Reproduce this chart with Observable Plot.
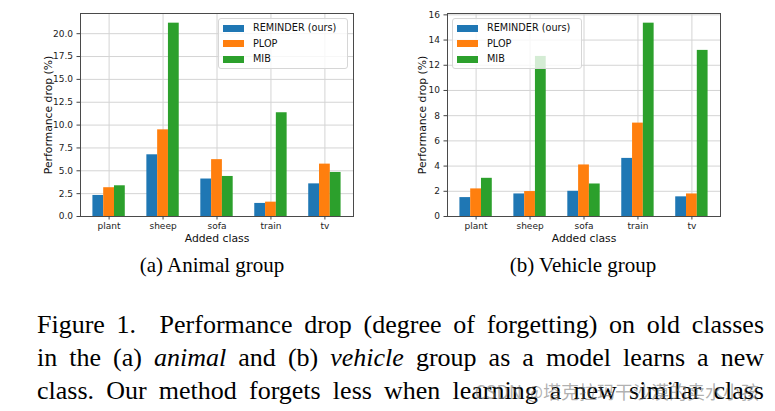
<!DOCTYPE html>
<html>
<head>
<meta charset="utf-8">
<script src="https://cdn.jsdelivr.net/npm/d3@7"></script>
<script src="https://cdn.jsdelivr.net/npm/@observablehq/plot@0.6"></script>
<style>
  html, body { margin: 0; padding: 0; background: #fff; }
  #root { position: relative; width: 775px; height: 411px; overflow: hidden; background: #fff; }
  .panel { position: absolute; top: 0; }
  .legend { position: absolute; background: rgba(255,255,255,0.8); border: 1px solid #d6d6d6; border-radius: 3px; box-sizing: border-box; z-index: 5; font-family: "DejaVu Sans", sans-serif; font-size: 9.7px; color: #111; }
  .legend .row { position: absolute; left: 0; height: 10px; display: flex; align-items: center; white-space: nowrap; }
  .legend .sw { position: absolute; width: 21px; height: 7px; top: 1.5px; }
  .legend .lb { position: absolute; top: -1px; line-height: 12px; }
  .sub { position: absolute; font-family: "Liberation Serif", "Times New Roman", serif; font-size: 21px; color: #000; white-space: nowrap; transform: translateX(-50%); line-height: 24px; }
  .cap { position: absolute; left: 37px; width: 727px; font-family: "Liberation Serif", "Times New Roman", serif; font-size: 26px; line-height: 33px; color: #000; text-align: justify; text-align-last: justify; white-space: nowrap; }
  .wm { position: absolute; font-family: "Noto Sans CJK SC", sans-serif; font-size: 18px; color: rgba(110,110,110,0.55); white-space: nowrap; z-index: 6; line-height: 22px; }
</style>
</head>
<body>
<div id="root">
  <div id="pa" class="panel" style="left:0px"></div>
  <div id="pb" class="panel" style="left:385px"></div>
</div>
<script>
const categories = ["plant", "sheep", "sofa", "train", "tv"];
const methods = ["REMINDER (ours)", "PLOP", "MIB"];
const colors = ["#1f77b4", "#ff7f0e", "#2ca02c"];

const animalReminder = [2.3, 6.75, 4.1, 1.43, 3.57];
const animalPlop     = [3.15, 9.48, 6.22, 1.57, 5.73];
const animalMib      = [3.36, 21.15, 4.38, 11.35, 4.82];

const vehicleReminder = [1.5, 1.79, 2.0, 4.61, 1.56];
const vehiclePlop     = [2.19, 1.98, 4.09, 7.41, 1.79];
const vehicleMib      = [3.03, 12.7, 2.58, 15.34, 13.18];

const animalTicks = [0, 2.5, 5, 7.5, 10, 12.5, 15, 17.5, 20];
const vehicleTicks = [0, 2, 4, 6, 8, 10, 12, 14, 16];

const xLabel = "Added class";
const yLabel = "Performance drop (%)";

function buildRows(series) {
  const rows = [];
  categories.forEach((c, i) => {
    methods.forEach((m, j) => {
      rows.push({cls: c, i, j, method: m, value: series[j][i]});
    });
  });
  return rows;
}

function makeChart(series, ticks, fmt, cfg) {
  const rows = buildRows(series);
  const bw = 0.2;
  const ymax = d3.max(rows, d => d.value) * 1.05;
  const xmin = -1.5 * bw - 0.05 * (categories.length - 1 + 3 * bw);
  const xmax = categories.length - 1 + 1.5 * bw + 0.05 * (categories.length - 1 + 3 * bw);
  return Plot.plot({
    width: cfg.width,
    height: 250,
    marginLeft: cfg.marginLeft,
    marginRight: cfg.marginRight,
    marginTop: 13,
    marginBottom: 34,
    style: {fontFamily: "DejaVu Sans, sans-serif", fontSize: "9px", color: "#222", background: "transparent", overflow: "visible"},
    x: {type: "linear", domain: [xmin, xmax]},
    y: {domain: [0, ymax]},
    color: {domain: methods, range: colors},
    marks: [
      Plot.gridX(categories.map((_, i) => i), {stroke: "#d4d4d4", strokeOpacity: 1, strokeWidth: 1}),
      Plot.gridY(ticks, {stroke: "#d4d4d4", strokeOpacity: 1, strokeWidth: 1}),
      Plot.rectY(rows, {
        x1: d => d.i + (d.j - 1) * bw - bw / 2,
        x2: d => d.i + (d.j - 1) * bw + bw / 2,
        y: "value",
        fill: "method"
      }),
      Plot.frame({stroke: "#4a4a4a", strokeWidth: 1}),
      Plot.axisX({ticks: categories.map((_, i) => i), tickFormat: i => categories[i], tickSize: 3.5, tickPadding: 3, label: null, fontSize: 9, stroke: "#444"}),
      Plot.axisY({ticks: ticks, tickFormat: fmt, tickSize: 3.5, tickPadding: 4, label: null, fontSize: 9, stroke: "#444"}),
      Plot.text([xLabel], {text: d => d, frameAnchor: "bottom", dy: 22, fontSize: 10.8, fill: "#111", lineAnchor: "middle"}),
      Plot.text([yLabel], {text: d => d, frameAnchor: "left", dx: -cfg.yLabelOffset, rotate: -90, fontSize: 10.8, fill: "#111", textAnchor: "middle", lineAnchor: "middle"})
    ]
  });
}

document.getElementById("pa").appendChild(
  makeChart([animalReminder, animalPlop, animalMib], animalTicks, d3.format(".1f"),
    {width: 385, marginLeft: 80, marginRight: 32, yLabelOffset: 32})
);
document.getElementById("pb").appendChild(
  makeChart([vehicleReminder, vehiclePlop, vehicleMib], vehicleTicks, d3.format("d"),
    {width: 390, marginLeft: 62, marginRight: 55, yLabelOffset: 25})
);

const root = document.getElementById("root");

function addLegend(left, top) {
  const box = document.createElement("div");
  box.className = "legend";
  box.style.left = left + "px";
  box.style.top = top + "px";
  box.style.width = "130px";
  box.style.height = "51px";
  methods.forEach((m, j) => {
    const row = document.createElement("div");
    row.className = "row";
    row.style.top = (4 + j * 15.6) + "px";
    const sw = document.createElement("div");
    sw.className = "sw";
    sw.style.left = "4px";
    sw.style.background = colors[j];
    const lb = document.createElement("div");
    lb.className = "lb";
    lb.style.left = "34px";
    lb.textContent = m;
    row.appendChild(sw);
    row.appendChild(lb);
    box.appendChild(row);
  });
  root.appendChild(box);
}
addLegend(218, 18);
addLegend(452, 18);

function addDiv(cls, html, styles) {
  const d = document.createElement("div");
  d.className = cls;
  d.innerHTML = html;
  Object.assign(d.style, styles);
  root.appendChild(d);
  return d;
}

addDiv("sub", "(a) Animal group", {left: "212px", top: "253px"});
addDiv("sub", "(b) Vehicle group", {left: "583px", top: "253px"});

addDiv("cap", "Figure 1.&nbsp; Performance drop (degree of forgetting) on old classes", {top: "308px"});
addDiv("cap", "in the (a) <i>animal</i> and (b) <i>vehicle</i> group as a model learns a new", {top: "341px"});
addDiv("cap", "class. Our method forgets less when learning a new similar class", {top: "374px"});

addDiv("wm", "CSDN @塔克拉玛干沙漠的卖水小孩", {right: "16px", top: "380px"});
</script>
</body>
</html>
